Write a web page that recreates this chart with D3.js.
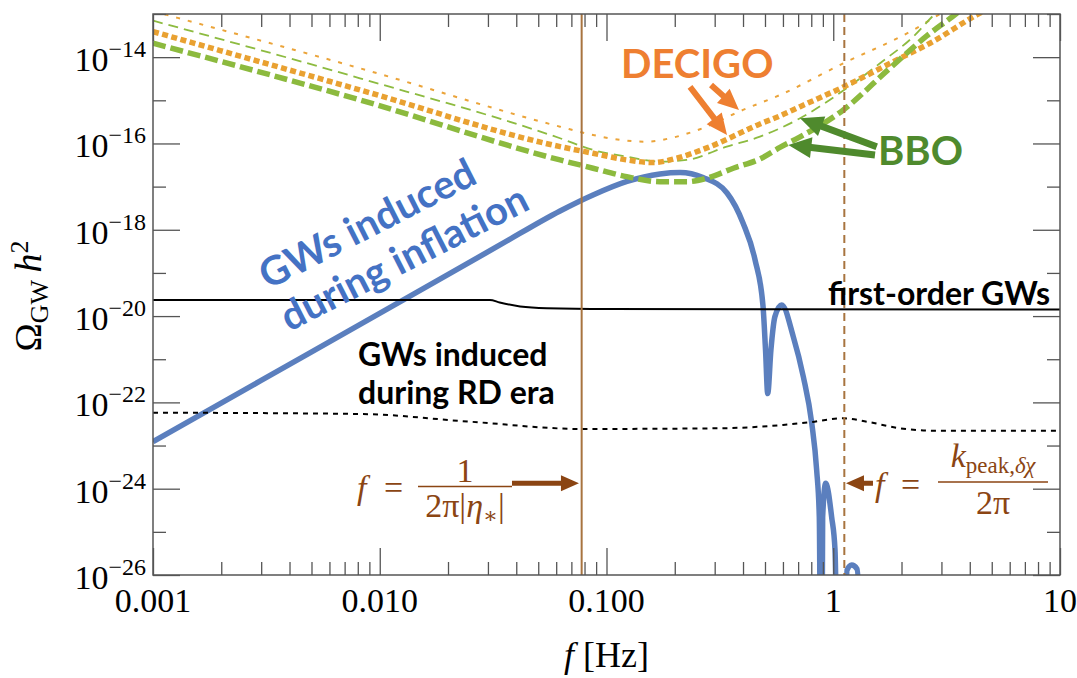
<!DOCTYPE html>
<meta charset="utf-8">
<style>
    body { margin: 0; background: #fff; }
    .serif { font-family: "Liberation Serif", "DejaVu Serif", serif; }
    .lbl { font-family: Lato, "Open Sans", sans-serif; font-weight: 700; }
</style>
<body>
<script src="https://d3js.org/d3.v7.min.js"></script>
<script>
    // ---- data (f in Hz, Omega_GW h^2) ----
    var inflationF = [0.001, 0.00296, 0.0126, 0.0339, 0.0624, 0.0872, 0.1232, 0.172, 0.211, 0.2665, 0.340, 0.400,
                      0.452, 0.490, 0.5027, 0.514, 0.531, 0.553, 0.5925, 0.6665, 0.738, 0.804, 0.845, 0.868, 0.879,
                      0.892, 0.898, 0.926, 0.984, 1.018, 1.044, 1.127, 1.15, 1.206, 1.273, 1.335];
    var inflationO = [1.23e-23, 3.1e-22, 2.3e-20, 4.45e-19, 2.73e-18, 6.41e-18, 1.32e-17, 1.97e-17, 2.13e-17, 1.63e-17, 7.13e-18, 1.44e-18,
                      2.0e-19, 1.71e-20, 1.64e-21, 1.6e-22, 1.64e-21, 9.7e-21, 1.8e-20, 3.33e-21, 3.94e-22, 3.28e-23, 2.7e-24, 2.2e-25, 1e-28,
                      1e-28, 2.2e-25, 1.33e-24, 2.2e-25, 3.8e-26, 1e-28, 1e-28, 1.3e-26, 1.7e-26, 1.38e-26, 1e-28];

    var firstOrderF = [0.001, 0.0306, 0.0338, 0.0416, 0.0545, 0.1005, 10];
    var firstOrderO = [2.36e-20, 2.36e-20, 2.07e-20, 1.67e-20, 1.52e-20, 1.46e-20, 1.42e-20];

    var rdF = [0.001, 0.00818, 0.025, 0.0777, 0.3167, 0.6004, 0.790, 1.108, 1.405, 1.97, 2.754, 10];
    var rdO = [5.78e-23, 5.39e-23, 3.57e-23, 2.42e-23, 2.51e-23, 3.0e-23, 3.46e-23, 4.28e-23, 3.57e-23, 2.51e-23, 2.21e-23, 2.21e-23];

    var decigoThinF = [0.001, 0.00818, 0.0624, 0.0872, 0.1228, 0.1504, 0.1906, 0.2585, 0.400, 0.582, 1.108, 2.255, 2.957, 3.62];
    var decigoThinO = [1.16e-13, 5.53e-15, 2.45e-16, 1.57e-16, 1.16e-16, 1.10e-16, 1.32e-16, 2.14e-16, 5.98e-16, 1.33e-15, 7.2e-15, 4.27e-14, 1.0e-13, 1.9e-13];

    var bboThinF = [0.001, 0.00818, 0.0624, 0.0872, 0.1228, 0.172, 0.2259, 0.339, 0.475, 0.714, 1.147, 1.608, 2.255, 2.81, 3.4];
    var bboThinO = [7.02e-14, 3.24e-15, 1.32e-16, 7.08e-17, 4.94e-17, 3.79e-17, 4.15e-17, 8.43e-17, 1.44e-16, 3.84e-16, 1.91e-15, 7.23e-15, 2.99e-14, 1.0e-13, 2.2e-13];

    var decigoF = [0.001, 0.00818, 0.0624, 0.0872, 0.1228, 0.1609, 0.204, 0.286, 0.475, 0.582, 0.714, 1.108, 1.97, 2.67, 4.29, 4.91];
    var decigoO = [3.90e-14, 1.74e-15, 8.45e-17, 5.93e-17, 4.15e-17, 3.6e-17, 4.55e-17, 8.43e-17, 2.83e-16, 4.34e-16, 7.13e-16, 2.04e-15, 9.44e-15, 2.1e-14, 9.5e-14, 1.38e-13];

    var bboF = [0.001, 0.00818, 0.0624, 0.0872, 0.1228, 0.172, 0.2259, 0.2766, 0.3624, 0.475, 0.582, 0.714, 1.108, 1.744, 2.584, 3.50, 4.01];
    var bboO = [2.10e-14, 1.02e-15, 4.15e-17, 2.67e-17, 1.70e-17, 1.30e-17, 1.30e-17, 1.56e-17, 2.67e-17, 4.38e-17, 8.09e-17, 1.42e-16, 5.98e-16, 5.06e-15, 3.1e-14, 1.04e-13, 1.9e-13];

    var fEta = 0.0777;     // f = 1/(2 pi |eta_*|)
    var fPeak = 1.119;     // f = k_peak / 2 pi

    var xTickVals = [0.001, 0.01, 0.1, 1, 10];
    var xTickLabels = ["0.001", "0.010", "0.100", "1", "10"];
    var yTickExps = [-26, -24, -22, -20, -18, -16, -14];

    // ---- layout ----
    var width = 1077, height = 678;
    var pl = 153, pr = 1060, pt = 14, pb = 575;

    var x = d3.scaleLog().domain([0.001, 10]).range([pl, pr]);
    var y = d3.scaleLog().domain([1e-26, 1e-13]).range([pb, pt]);

    var svg = d3.select("body").append("svg")
        .attr("width", width)
        .attr("height", height);

    svg.append("clipPath").attr("id", "plot")
        .append("rect")
        .attr("x", pl).attr("y", pt)
        .attr("width", pr - pl).attr("height", pb - pt);

    var line = d3.line()
        .x(function(d) { return x(d[0]); })
        .y(function(d) { return y(d[1]); })
        .curve(d3.curveMonotoneX);

    var g = svg.append("g").attr("clip-path", "url(#plot)");

    function curve(fs, os, color, w, dash) {
        g.append("path")
            .attr("d", line(d3.zip(fs, os)))
            .attr("fill", "none")
            .attr("stroke", color)
            .attr("stroke-width", w)
            .attr("stroke-dasharray", dash);
    }

    curve(inflationF, inflationO, "#5b7fbe", 5.5, null);
    curve(firstOrderF, firstOrderO, "#000", 2, null);
    curve(rdF, rdO, "#000", 2, "5 5");
    curve(decigoThinF, decigoThinO, "#eba43a", 2, "4 8");
    curve(bboThinF, bboThinO, "#8dbb40", 1.8, "10 6");
    curve(decigoF, decigoO, "#e9a131", 5.5, "6 3.5");
    curve(bboF, bboO, "#8cba3e", 5.5, "13 5");

    // vertical markers
    g.append("line")
        .attr("x1", x(fEta)).attr("x2", x(fEta))
        .attr("y1", pt).attr("y2", pb)
        .attr("stroke", "#a8743f").attr("stroke-width", 2);
    g.append("line")
        .attr("x1", x(fPeak)).attr("x2", x(fPeak))
        .attr("y1", pt).attr("y2", pb)
        .attr("stroke", "#a8743f").attr("stroke-width", 2)
        .attr("stroke-dasharray", "8 5");

    // ---- frame and ticks ----
    var xMinor = x.ticks().filter(function(v) { return xTickVals.indexOf(v) < 0; });
    var yAll = d3.range(-26, -12).map(function(e) { return Math.pow(10, e); });
    var yMajor = yAll.filter(function(v, i) { return i % 2 == 0; });
    var yMinor = yAll.filter(function(v, i) { return i % 2 == 1; });

    function ticks(axis, vals, size, tx, ty) {
        var a = svg.append("g")
            .attr("transform", "translate(" + tx + "," + ty + ")")
            .call(axis.tickValues(vals).tickSize(-size).tickFormat(""));
        a.select(".domain").remove();
        a.selectAll("line").attr("stroke", "#555").attr("stroke-width", 1.3);
    }
    ticks(d3.axisBottom(x), xTickVals, 27, 0, pb);
    ticks(d3.axisBottom(x), xMinor, 13, 0, pb);
    ticks(d3.axisTop(x), xTickVals, 27, 0, pt);
    ticks(d3.axisTop(x), xMinor, 13, 0, pt);
    ticks(d3.axisLeft(y), yMajor, 27, pl, 0);
    ticks(d3.axisLeft(y), yMinor, 13, pl, 0);
    ticks(d3.axisRight(y), yMajor, 27, pr, 0);
    ticks(d3.axisRight(y), yMinor, 13, pr, 0);

    svg.append("rect")
        .attr("x", pl).attr("y", pt)
        .attr("width", pr - pl).attr("height", pb - pt)
        .attr("fill", "none").attr("stroke", "#555").attr("stroke-width", 1.5);

    // tick labels
    svg.selectAll(".xl").data(xTickVals).enter().append("text")
        .attr("class", "serif")
        .attr("x", function(d) { return x(d); })
        .attr("y", pb + 37)
        .attr("text-anchor", "middle")
        .attr("font-size", 34)
        .text(function(d, i) { return xTickLabels[i]; });

    var yl = svg.selectAll(".yl").data(yTickExps).enter().append("text")
        .attr("class", "serif")
        .attr("x", pl - 7)
        .attr("y", function(d) { return y(Math.pow(10, d)) + 14; })
        .attr("text-anchor", "end")
        .attr("font-size", 34);
    yl.append("tspan").text("10");
    yl.append("tspan").attr("dy", -14).attr("font-size", 24)
        .text(function(d) { return "\u2212" + Math.abs(d); });

    // axis titles
    var xt = svg.append("text").attr("class", "serif")
        .attr("x", x(0.1)).attr("y", 667)
        .attr("text-anchor", "middle").attr("font-size", 36);
    xt.append("tspan").attr("font-style", "italic").text("f");
    xt.append("tspan").text(" [Hz]");

    var yt = svg.append("text").attr("class", "serif")
        .attr("transform", "translate(41,296) rotate(-90)")
        .attr("text-anchor", "middle").attr("font-size", 38);
    yt.append("tspan").text("\u03A9");
    yt.append("tspan").attr("font-size", 26).attr("dy", 7).text("GW");
    yt.append("tspan").attr("dy", -7).attr("font-style", "italic").text("\u2009h");
    yt.append("tspan").attr("font-size", 26).attr("dy", -13).text("2");

    // ---- annotations ----
    function arrow(p0, p1, color, sw, hl, hw) {
        var x0 = x(p0[0]), y0 = y(p0[1]), x1 = x(p1[0]), y1 = y(p1[1]);
        var dx = x1 - x0, dy = y1 - y0, len = Math.hypot(dx, dy);
        var ux = dx / len, uy = dy / len, nx = -uy, ny = ux;
        var bx = x1 - ux * hl, by = y1 - uy * hl;
        var pts = [
            [x0 + nx * sw / 2, y0 + ny * sw / 2],
            [bx + nx * sw / 2, by + ny * sw / 2],
            [bx + nx * hw / 2, by + ny * hw / 2],
            [x1, y1],
            [bx - nx * hw / 2, by - ny * hw / 2],
            [bx - nx * sw / 2, by - ny * sw / 2],
            [x0 - nx * sw / 2, y0 - ny * sw / 2]
        ];
        svg.append("path").attr("d", "M" + pts.join("L") + "Z").attr("fill", color);
    }

    var orange = "#ee7f31", green = "#4f8a2d", blue = "#4472c4", brown = "#8b4513";

    svg.append("text").attr("class", "lbl")
        .attr("x", 621).attr("y", 78).attr("font-size", 40)
        .attr("fill", orange).text("DECIGO");
    arrow([0.2335, 2.04e-15], [0.340, 1.57e-16], orange, 6, 21, 19);
    arrow([0.289, 2.27e-15], [0.384, 5.98e-16], orange, 6, 21, 19);

    svg.append("text").attr("class", "lbl")
        .attr("x", 878).attr("y", 165).attr("font-size", 40)
        .attr("fill", green).text("BBO");
    arrow([1.555, 8.43e-17], [0.714, 3.84e-16], green, 7, 23, 21);
    arrow([1.528, 5.42e-17], [0.634, 9.24e-17], green, 7, 23, 21);

    var bt = svg.append("text").attr("class", "lbl")
        .attr("transform", "translate(268,290) rotate(-27)")
        .attr("font-size", 40).attr("fill", blue);
    bt.append("tspan").attr("x", 0).attr("y", 0).text("GWs induced");
    bt.append("tspan").attr("x", 0).attr("y", 47).text("during inflation");

    svg.append("text").attr("class", "lbl")
        .attr("x", 1050).attr("y", 305).attr("text-anchor", "end")
        .attr("font-size", 32).text("first-order GWs");

    var rt = svg.append("text").attr("class", "lbl").attr("font-size", 32);
    rt.append("tspan").attr("x", 358).attr("y", 366).text("GWs induced");
    rt.append("tspan").attr("x", 358).attr("y", 404).text("during RD era");

    // f = 1/(2 pi |eta_*|)
    var fm = svg.append("g").attr("class", "serif").attr("fill", brown).attr("font-size", 34);
    fm.append("text").attr("x", 357).attr("y", 499).attr("font-style", "italic").text("f");
    fm.append("text").attr("x", 384).attr("y", 499).text("=");
    fm.append("text").attr("x", 465).attr("y", 482).attr("text-anchor", "middle").text("1");
    fm.append("line").attr("x1", 418).attr("x2", 512).attr("y1", 486.5).attr("y2", 486.5)
        .attr("stroke", brown).attr("stroke-width", 1.6);
    var den = fm.append("text").attr("x", 465).attr("y", 517).attr("text-anchor", "middle");
    den.append("tspan").text("2\u03C0|");
    den.append("tspan").attr("font-style", "italic").text("\u03B7");
    den.append("tspan").attr("font-size", 22).attr("dy", 6).text("\u2217");
    den.append("tspan").attr("dy", -6).text("|");
    arrow([0.0383, 1.34e-24], [0.0756, 1.34e-24], brown, 5, 18, 16);

    // f = k_peak / 2 pi
    arrow([1.497, 1.34e-24], [1.138, 1.34e-24], brown, 5, 18, 16);
    fm.append("text").attr("x", 875).attr("y", 496).attr("font-style", "italic").text("f");
    fm.append("text").attr("x", 901).attr("y", 496).text("=");
    var num = fm.append("text").attr("x", 993).attr("y", 467).attr("text-anchor", "middle");
    num.append("tspan").attr("font-style", "italic").text("k");
    num.append("tspan").attr("font-size", 23).attr("dy", 6).text("peak,");
    num.append("tspan").attr("font-size", 23).attr("font-style", "italic").text("\u03B4\u03C7");
    fm.append("line").attr("x1", 938).attr("x2", 1048).attr("y1", 482).attr("y2", 482)
        .attr("stroke", brown).attr("stroke-width", 1.6);
    fm.append("text").attr("x", 993).attr("y", 514).attr("text-anchor", "middle").text("2\u03C0");
</script>
</body>
